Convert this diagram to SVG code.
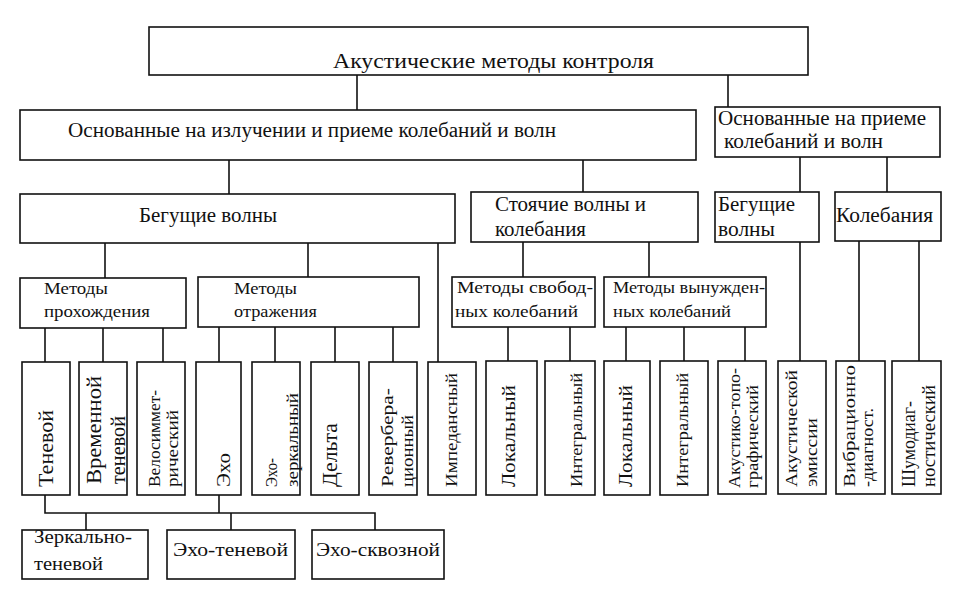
<svg xmlns="http://www.w3.org/2000/svg" width="958" height="589" viewBox="0 0 958 589">
<style>
.b{fill:#fff;stroke:#111;stroke-width:1.6}
.c line,.c polyline{stroke:#111;stroke-width:1.6;fill:none}
text{font-family:"Liberation Serif",serif;fill:#111}
.t16{font-size:16px}
.t17{font-size:17px}
.t18{font-size:18px}
.t19{font-size:19px}
.t20{font-size:20px}
.t21{font-size:21px}
.t22{font-size:22px}
</style>
<rect width="958" height="589" fill="#fff"/>
<g class="c" id="connectors">
<line x1="357" y1="75" x2="357" y2="110"/>
<line x1="728" y1="75" x2="728" y2="107"/>
<line x1="229" y1="160" x2="229" y2="194"/>
<line x1="583" y1="160" x2="583" y2="192"/>
<line x1="800" y1="157" x2="800" y2="192"/>
<line x1="887" y1="157" x2="887" y2="192"/>
<line x1="105" y1="243" x2="105" y2="278"/>
<line x1="308" y1="243" x2="308" y2="277"/>
<line x1="438" y1="243" x2="438" y2="362"/>
<line x1="523" y1="242" x2="523" y2="277"/>
<line x1="649" y1="242" x2="649" y2="277"/>
<line x1="800" y1="242" x2="800" y2="361"/>
<line x1="859" y1="241" x2="859" y2="361"/>
<line x1="919" y1="241" x2="919" y2="361"/>
<line x1="45" y1="328" x2="45" y2="362"/>
<line x1="103" y1="328" x2="103" y2="362"/>
<line x1="163" y1="328" x2="163" y2="362"/>
<line x1="219" y1="327" x2="219" y2="362"/>
<line x1="275" y1="327" x2="275" y2="362"/>
<line x1="335" y1="327" x2="335" y2="362"/>
<line x1="393" y1="327" x2="393" y2="362"/>
<line x1="508" y1="327" x2="508" y2="361"/>
<line x1="570" y1="327" x2="570" y2="361"/>
<line x1="626" y1="327" x2="626" y2="361"/>
<line x1="684" y1="327" x2="684" y2="361"/>
<line x1="745" y1="327" x2="745" y2="361"/>
<polyline points="45,495 45,513 375,513 375,530"/>
<line x1="219" y1="495" x2="219" y2="513"/>
<line x1="86" y1="513" x2="86" y2="530"/>
<line x1="231" y1="513" x2="231" y2="530"/>
</g>

<g id="root"><rect class="b" x="149" y="27" width="659" height="48"/>
<text class="t22" x="333" y="68" textLength="321" lengthAdjust="spacingAndGlyphs">Акустические методы контроля</text></g>

<g id="emit"><rect class="b" x="20" y="110" width="676" height="50"/>
<text class="t20" x="68" y="137" textLength="488" lengthAdjust="spacingAndGlyphs">Основанные на излучении и приеме колебаний и волн</text></g>

<g id="receive"><rect class="b" x="715" y="107" width="225" height="50"/>
<text class="t20" x="718" y="125" textLength="208" lengthAdjust="spacingAndGlyphs">Основанные на приеме</text>
<text class="t20" x="724" y="148" textLength="159" lengthAdjust="spacingAndGlyphs">колебаний и волн</text></g>

<g id="travel"><rect class="b" x="20" y="194" width="435" height="49"/>
<text class="t20" x="139" y="222" textLength="138" lengthAdjust="spacingAndGlyphs">Бегущие волны</text></g>

<g id="standing"><rect class="b" x="471" y="192" width="227" height="50"/>
<text class="t20" x="495" y="211" textLength="151" lengthAdjust="spacingAndGlyphs">Стоячие волны и</text>
<text class="t20" x="495" y="236" textLength="91" lengthAdjust="spacingAndGlyphs">колебания</text></g>

<g id="travel2"><rect class="b" x="715" y="192" width="104" height="50"/>
<text class="t20" x="718" y="211" textLength="77" lengthAdjust="spacingAndGlyphs">Бегущие</text>
<text class="t20" x="718" y="236" textLength="57" lengthAdjust="spacingAndGlyphs">волны</text></g>

<g id="oscill"><rect class="b" x="835" y="192" width="106" height="49"/>
<text class="t20" x="836" y="222" textLength="97" lengthAdjust="spacingAndGlyphs">Колебания</text></g>

<g id="pass"><rect class="b" x="20" y="278" width="166" height="50"/>
<text class="t16" x="44" y="294" textLength="64" lengthAdjust="spacingAndGlyphs">Методы</text>
<text class="t16" x="44" y="317" textLength="106" lengthAdjust="spacingAndGlyphs">прохождения</text></g>

<g id="reflect"><rect class="b" x="198" y="277" width="221" height="50"/>
<text class="t16" x="234" y="294" textLength="63" lengthAdjust="spacingAndGlyphs">Методы</text>
<text class="t16" x="234" y="317" textLength="83" lengthAdjust="spacingAndGlyphs">отражения</text></g>

<g id="free"><rect class="b" x="452" y="277" width="143" height="50"/>
<text class="t16" x="457" y="293" textLength="136" lengthAdjust="spacingAndGlyphs">Методы свобод-</text>
<text class="t16" x="455" y="317" textLength="123" lengthAdjust="spacingAndGlyphs">ных колебаний</text></g>

<g id="forced"><rect class="b" x="604" y="277" width="162" height="50"/>
<text class="t16" x="613" y="293" textLength="152" lengthAdjust="spacingAndGlyphs">Методы вынужден-</text>
<text class="t16" x="613" y="317" textLength="118" lengthAdjust="spacingAndGlyphs">ных колебаний</text></g>

<g id="shadow"><rect class="b" x="22" y="362" width="48" height="133"/>
<text class="t21" transform="translate(53,487) rotate(-90)" textLength="77" lengthAdjust="spacingAndGlyphs">Теневой</text></g>

<g id="timeshadow"><rect class="b" x="79" y="362" width="48" height="133"/>
<text class="t20" transform="translate(101,484) rotate(-90)" textLength="108" lengthAdjust="spacingAndGlyphs">Временной</text>
<text class="t20" transform="translate(125,484) rotate(-90)" textLength="68" lengthAdjust="spacingAndGlyphs">теневой</text></g>

<g id="velo"><rect class="b" x="137" y="362" width="48" height="133"/>
<text class="t17" transform="translate(160,487) rotate(-90)" textLength="97" lengthAdjust="spacingAndGlyphs">Велосиммет-</text>
<text class="t17" transform="translate(178,487) rotate(-90)" textLength="77" lengthAdjust="spacingAndGlyphs">рический</text></g>

<g id="echo"><rect class="b" x="196" y="362" width="45" height="133"/>
<text class="t19" transform="translate(230,487) rotate(-90)" textLength="34" lengthAdjust="spacingAndGlyphs">Эхо</text></g>

<g id="echomirror"><rect class="b" x="252" y="362" width="48" height="133"/>
<text class="t16" transform="translate(277,487) rotate(-90)" textLength="29" lengthAdjust="spacingAndGlyphs">Эхо-</text>
<text class="t16" transform="translate(298,487) rotate(-90)" textLength="94" lengthAdjust="spacingAndGlyphs">зеркальный</text></g>

<g id="delta"><rect class="b" x="311" y="362" width="48" height="133"/>
<text class="t21" transform="translate(337,487) rotate(-90)" textLength="64" lengthAdjust="spacingAndGlyphs">Дельта</text></g>

<g id="reverb"><rect class="b" x="369" y="362" width="48" height="133"/>
<text class="t17" transform="translate(393,487) rotate(-90)" textLength="99" lengthAdjust="spacingAndGlyphs">Ревербера-</text>
<text class="t17" transform="translate(413,487) rotate(-90)" textLength="72" lengthAdjust="spacingAndGlyphs">ционный</text></g>

<g id="imped"><rect class="b" x="428" y="362" width="48" height="133"/>
<text class="t17" transform="translate(457,487) rotate(-90)" textLength="114" lengthAdjust="spacingAndGlyphs">Импедансный</text></g>

<g id="local1"><rect class="b" x="486" y="361" width="51" height="134"/>
<text class="t19" transform="translate(515,487) rotate(-90)" textLength="102" lengthAdjust="spacingAndGlyphs">Локальный</text></g>

<g id="integ1"><rect class="b" x="545" y="361" width="50" height="134"/>
<text class="t16" transform="translate(582,487) rotate(-90)" textLength="114" lengthAdjust="spacingAndGlyphs">Интегральный</text></g>

<g id="local2"><rect class="b" x="604" y="361" width="46" height="134"/>
<text class="t19" transform="translate(632,487) rotate(-90)" textLength="102" lengthAdjust="spacingAndGlyphs">Локальный</text></g>

<g id="integ2"><rect class="b" x="660" y="361" width="48" height="134"/>
<text class="t16" transform="translate(688,487) rotate(-90)" textLength="114" lengthAdjust="spacingAndGlyphs">Интегральный</text></g>

<g id="topo"><rect class="b" x="718" y="361" width="48" height="133"/>
<text class="t17" transform="translate(740,488) rotate(-90)" textLength="120" lengthAdjust="spacingAndGlyphs">Акустико-топо-</text>
<text class="t17" transform="translate(758,488) rotate(-90)" textLength="103" lengthAdjust="spacingAndGlyphs">графический</text></g>

<g id="emission"><rect class="b" x="778" y="361" width="48" height="133"/>
<text class="t17" transform="translate(797,487) rotate(-90)" textLength="117" lengthAdjust="spacingAndGlyphs">Акустической</text>
<text class="t17" transform="translate(817,487) rotate(-90)" textLength="69" lengthAdjust="spacingAndGlyphs">эмиссии</text></g>

<g id="vibro"><rect class="b" x="836" y="361" width="49" height="133"/>
<text class="t17" transform="translate(855,487) rotate(-90)" textLength="122" lengthAdjust="spacingAndGlyphs">Вибрационно</text>
<text class="t17" transform="translate(873,487) rotate(-90)" textLength="79" lengthAdjust="spacingAndGlyphs">-диагност.</text></g>

<g id="noise"><rect class="b" x="892" y="361" width="49" height="133"/>
<text class="t18" transform="translate(915,487) rotate(-90)" textLength="86" lengthAdjust="spacingAndGlyphs">Шумодиаг-</text>
<text class="t18" transform="translate(935,487) rotate(-90)" textLength="102" lengthAdjust="spacingAndGlyphs">ностический</text></g>

<g id="mirrorshadow"><rect class="b" x="22" y="530" width="126" height="49"/>
<text class="t18" x="34" y="543" textLength="98" lengthAdjust="spacingAndGlyphs">Зеркально-</text>
<text class="t18" x="34" y="570" textLength="69" lengthAdjust="spacingAndGlyphs">теневой</text></g>

<g id="echoshadow"><rect class="b" x="167" y="530" width="128" height="49"/>
<text class="t19" x="173" y="556" textLength="115" lengthAdjust="spacingAndGlyphs">Эхо-теневой</text></g>

<g id="echothrough"><rect class="b" x="312" y="530" width="132" height="49"/>
<text class="t19" x="316" y="556" textLength="124" lengthAdjust="spacingAndGlyphs">Эхо-сквозной</text></g>
</svg>
